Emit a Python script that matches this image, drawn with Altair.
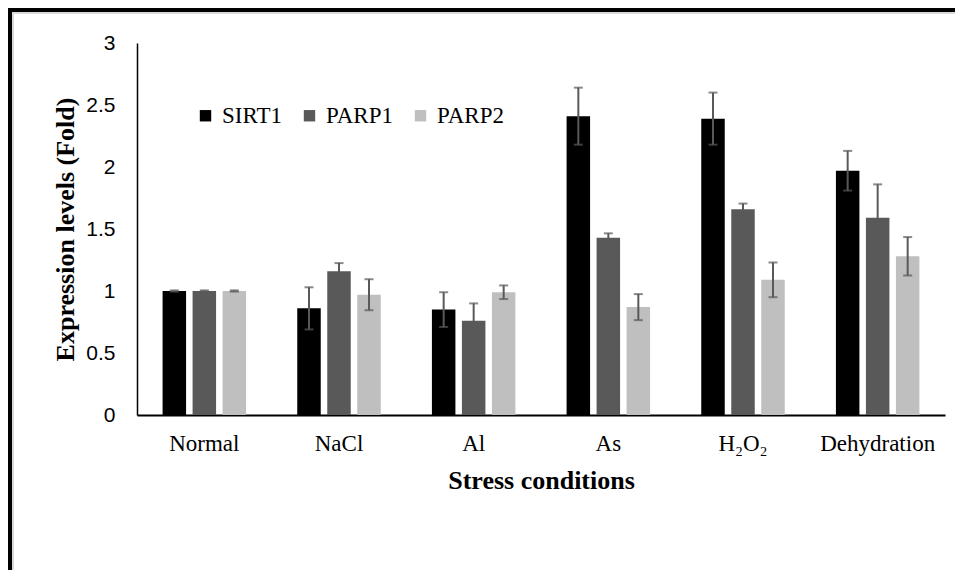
import altair as alt
import pandas as pd

conditions = ["Normal", "NaCl", "Al", "As", "H₂O₂", "Dehydration"]
genes = ["SIRT1", "PARP1", "PARP2"]
sirt1 = [1.0, 0.86, 0.85, 2.41, 2.39, 1.97]
sirt1_err = [0.005, 0.17, 0.14, 0.23, 0.21, 0.16]
parp1 = [1.0, 1.16, 0.76, 1.43, 1.66, 1.59]
parp1_err = [0.005, 0.065, 0.14, 0.035, 0.045, 0.27]
parp2 = [1.0, 0.97, 0.99, 0.87, 1.09, 1.28]
parp2_err = [0.005, 0.125, 0.055, 0.105, 0.14, 0.155]
colors = ["#000000", "#595959", "#BFBFBF"]
y_ticks = [0, 0.5, 1, 1.5, 2, 2.5, 3]

rows = []
for g, vals, errs in zip(genes, [sirt1, parp1, parp2], [sirt1_err, parp1_err, parp2_err]):
    for c, v, e in zip(conditions, vals, errs):
        rows.append({"cond": c, "gene": g, "value": v, "lo": v - e, "hi": v + e})
df = pd.DataFrame(rows)

W, H = 808, 372
PL, PT, PR, PB = 129, 35, 10, 155
SERIF = "Liberation Serif"

x = alt.X(
    "cond:N", sort=conditions,
    scale=alt.Scale(paddingInner=0.38, paddingOuter=0.19),
    axis=alt.Axis(
        title="Stress conditions", labelAngle=0, ticks=False, grid=False,
        domainColor="black", domainWidth=2,
        labelFont=SERIF, labelFontSize=23, labelColor="black", labelPadding=17,
        titleFont=SERIF, titleFontSize=26, titleFontWeight="bold",
        titleColor="black", titlePadding=12,
    ),
)
xo = alt.XOffset("gene:N", sort=genes, scale=alt.Scale(paddingInner=0.217, paddingOuter=0))
yscale = alt.Scale(domain=[0, 3], nice=False)

base = alt.Chart(df)

bars = base.mark_bar().encode(
    x=x,
    xOffset=xo,
    y=alt.Y(
        "value:Q", scale=yscale,
        axis=alt.Axis(
            values=y_ticks, labelExpr="datum.value + ''", ticks=False, grid=False,
            domainColor="black", domainWidth=1.5,
            labelFont="Liberation Sans", labelFontSize=21, labelColor="black", labelPadding=22,
            title="Expression levels (Fold)", titleFont=SERIF, titleFontSize=26,
            titleFontWeight="bold", titleColor="black", titlePadding=7,
        ),
    ),
    color=alt.Color(
        "gene:N", sort=genes,
        scale=alt.Scale(domain=genes, range=colors),
        legend=alt.Legend(
            orient="none", legendX=57, legendY=61, direction="horizontal", title=None,
            symbolType="square", symbolSize=130, symbolStrokeWidth=0,
            labelFont=SERIF, labelFontSize=23, labelColor="black",
            columnPadding=16, labelOffset=5, padding=0,
        ),
    ),
)

err = base.mark_rule(color="#595959", strokeWidth=2).encode(
    x=x, xOffset=xo, y=alt.Y("lo:Q", scale=yscale), y2="hi:Q"
)
cap_hi = base.mark_tick(color="#595959", thickness=2, size=9).encode(
    x=x, xOffset=xo, y=alt.Y("hi:Q", scale=yscale)
)
cap_lo = base.mark_tick(color="#595959", thickness=2, size=9).encode(
    x=x, xOffset=xo, y=alt.Y("lo:Q", scale=yscale)
)

frame_data = alt.Data(values=[{"f": 1}])
frame_top = alt.Chart(frame_data).mark_rule(color="black", strokeWidth=4).encode(
    x=alt.value(-PL), x2=alt.value(W + PR), y=alt.value(-PT + 2)
)
frame_left = alt.Chart(frame_data).mark_rule(color="black", strokeWidth=4).encode(
    x=alt.value(-PL + 2), y=alt.value(-PT), y2=alt.value(H + PB)
)
inner_top = alt.Chart(frame_data).mark_rule(color="#D9D9D9", strokeWidth=2).encode(
    x=alt.value(-PL + 4), x2=alt.value(W + PR), y=alt.value(-PT + 5)
)
inner_left = alt.Chart(frame_data).mark_rule(color="#D9D9D9", strokeWidth=2).encode(
    x=alt.value(-PL + 5), y=alt.value(-PT + 4), y2=alt.value(H + PB)
)

chart = alt.layer(bars, err, cap_hi, cap_lo, inner_top, inner_left, frame_top, frame_left).properties(
    width=W, height=H,
    padding={"left": PL, "top": PT, "right": PR, "bottom": PB},
    autosize=alt.AutoSizeParams(type="none"),
    background="white",
).configure(
    font=SERIF,
    view={"strokeWidth": 0},
    legend={"labelFont": SERIF, "labelFontSize": 23, "labelColor": "black"},
)

chart.save("out.html", embed_options={"renderer": "svg", "actions": False})
